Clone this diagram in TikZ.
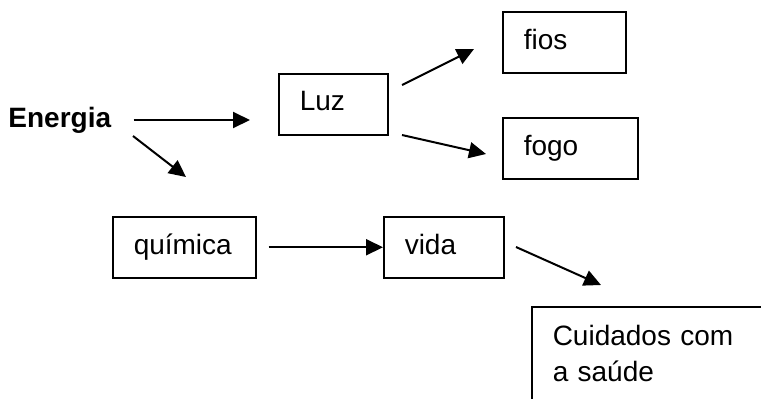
\documentclass[tikz,border=0pt]{standalone}
\usepackage{fontspec}
\setmainfont{Liberation Sans}
\usetikzlibrary{arrows.meta, positioning}

\begin{document}
\begin{tikzpicture}[
    x=0.5pt, y=-0.5pt,
    seta/.style={-{Triangle[length=8.5pt,width=8pt]}, line width=1pt},
    caixa/.style={
        rectangle,
        draw,
        line width=0.75pt,
        anchor=north west,
        align=left,
        inner xsep=10.5pt,
        minimum height=30.5pt,
        text height=10pt,
        text depth=3pt,
        font=\fontsize{14}{18}\selectfont
    }
]
\useasboundingbox (0,0) rectangle (761,398);

% Nodes
\node (energia) [anchor=west, inner sep=0pt, font=\fontsize{14}{18}\selectfont\bfseries] at (8,120) {Energia};
\node (luz)     [caixa, text width=33.5pt, text depth=4pt] at (278,73)  {Luz};
\node (fios)    [caixa, text width=40.5pt] at (502,11)  {fios};
\node (fogo)    [caixa, text width=46.5pt] at (502,117) {fogo};
\node (quimica) [caixa, text width=50.5pt] at (112,216) {química};
\node (vida)    [caixa, text width=39pt]   at (383,216) {vida};
\node (saude)   [caixa, text width=104pt, inner ysep=8pt,
                 text height=11.5pt, text depth=25pt] at (531,306) {Cuidados com\\a saúde};

% Free arrow ends
\coordinate (e1) at (133,136);
\coordinate (e2) at (186,177);
\coordinate (l1) at (402,85);
\coordinate (l2) at (474,49);
\coordinate (l3) at (402,135);
\coordinate (l4) at (486,154);
\coordinate (v1) at (516,247);
\coordinate (v2) at (601,285);

% Arrows
\draw[seta, shorten <=11pt, shorten >=14pt] (energia.east) -- (energia.east -| luz.west);
\draw[seta] (e1) -- (e2);
\draw[seta] (l1) -- (l2);
\draw[seta] (l3) -- (l4);
\draw[seta, shorten <=6pt] (quimica.east) -- (vida.west);
\draw[seta] (v1) -- (v2);

\end{tikzpicture}
\end{document}
